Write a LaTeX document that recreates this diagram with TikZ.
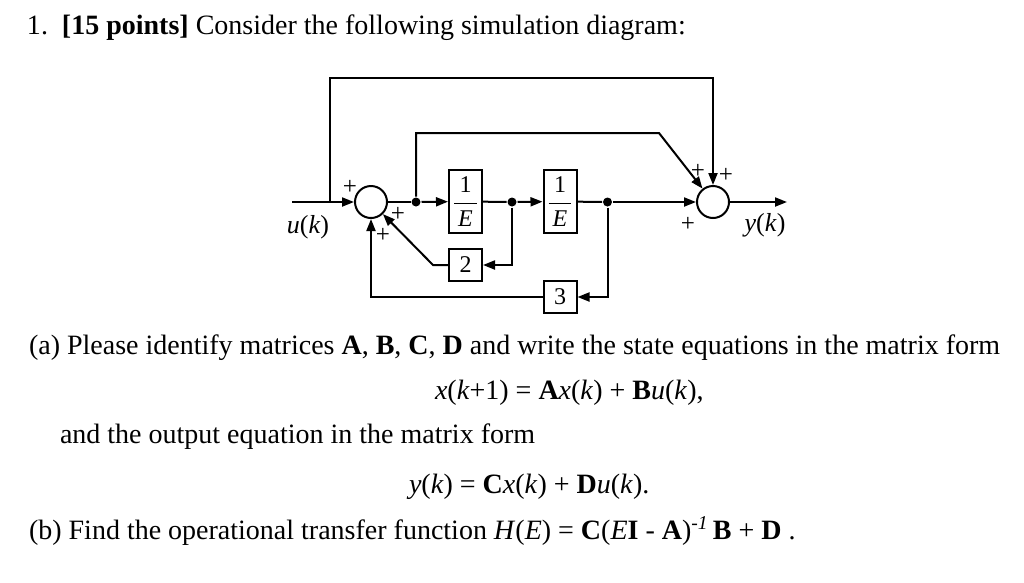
\documentclass[tikz,border=0pt]{standalone}
\usepackage{amsmath}
\usepackage{fontspec}
\setmainfont{Liberation Serif}
\usepackage{tikz}
\usetikzlibrary{shapes,arrows,arrows.meta}
\usetikzlibrary{positioning}

\newcommand{\frc}[2]{$\dfrac{\,\text{#1}\,}{\,\text{\itshape #2}\,}$}

\begin{document}
\begin{tikzpicture}[x=1pt,y=-1pt,line width=2pt,
  >={Triangle[length=12pt,width=9pt]},
  sumnode/.style={circle,draw,minimum size=32pt,inner sep=0pt},
  intbox/.style={draw,minimum width=33pt,minimum height=63pt,inner sep=0pt,
    font=\fontsize{24}{28}\selectfont},
  gainbox/.style={draw,minimum width=33pt,minimum height=32pt,inner sep=0pt,
    font=\fontsize{24}{28}\selectfont},
  dot/.style={circle,fill,inner sep=0pt,minimum size=9pt},
  sgn/.style={inner sep=0pt,font=\fontsize{25}{29}\selectfont},
  sig/.style={inner sep=0pt,font=\fontsize{26}{30}\selectfont},
  txt/.style={anchor=base west,inner sep=0pt,font=\fontsize{28}{33}\selectfont}]

  \useasboundingbox (0,0) rectangle (1024,582);

  % question text
  \node[txt] (title) at (26,34) {1.\ \ \textbf{[15 points]} Consider the following simulation diagram:};
  \node[txt] (parta) at (28,354) {(a) Please identify matrices \textbf{A}, \textbf{B}, \textbf{C}, \textbf{D} and write the state equations in the matrix form};
  \node[txt] (xeq) at (434,399) {\textit{x}(\textit{k}+1) = \textbf{A}\textit{x}(\textit{k}) + \textbf{B}\textit{u}(\textit{k}),};
  \node[txt] (andl) at (59,443) {and the output equation in the matrix form};
  \node[txt] (yeq) at (408,493) {\textit{y}(\textit{k}) = \textbf{C}\textit{x}(\textit{k}) + \textbf{D}\textit{u}(\textit{k}).};
  \node[txt] (partb) at (28,539) {(b) Find the operational transfer function \textit{H}(\textit{E}) = \textbf{C}(\textit{E}\textbf{I} - \textbf{A})\textsuperscript{\textit{-1}}\,\textbf{B} + \textbf{D} .};

  % summers and blocks
  \node[sumnode] (sum1) at (371,202) {};
  \node[sumnode] (sum2) at (713,202) {};
  \node[intbox] (intA) at (465.5,201.5) {\frc{1}{E}};
  \node[intbox] (intB) at (560,201.5) {\frc{1}{E}};
  \node[gainbox] (gain2) at (465.5,265) {2};
  \node[gainbox] (gain3) at (560,297) {3};

  % branch points
  \node[dot] (dot1) at (416,202) {};
  \node[dot] (dot2) at (512,202) {};
  \node[dot] (dot3) at (607.5,202) {};
  \coordinate (in) at (292,202);
  \coordinate (tap0) at (330,202);
  \coordinate (out) at (787,202);
  \coordinate (tl) at (330,78);
  \coordinate (ml) at (416,133);
  \coordinate (mr) at (659,133);
  \coordinate (k2) at (433,265);

  % forward path
  \draw[->] (in) -- (sum1);
  \draw (sum1) -- (dot1);
  \draw[->] (dot1) -- (intA);
  \draw (intA) -- (dot2);
  \draw[->] (dot2) -- (intB);
  \draw (intB) -- (dot3);
  \draw[->] (dot3) -- (sum2);
  \draw[->] (sum2) -- (out);

  % feedforward loops
  \draw[->] (tap0) -- (tl) -| (sum2);
  \draw[->] (dot1) -- (ml) -- (mr) -- (sum2);

  % feedback loops
  \draw[->] (dot2) |- (gain2);
  \draw[->] (gain2) -- (k2) -- (sum1);
  \draw[->] (dot3) |- (gain3);
  \draw[->] (gain3) -| (sum1);

  % signs
  \node[sgn] at (350,187) {+};
  \node[sgn] at (398,214) {+};
  \node[sgn] at (383,235) {+};
  \node[sgn] at (698,171) {+};
  \node[sgn] at (726,175) {+};
  \node[sgn] at (688,224) {+};

  % signals
  \node[sig] (uk) at (308,227) {\textit{u}(\textit{k})};
  \node[sig] (yk) at (765,225) {\textit{y}(\textit{k})};

\end{tikzpicture}
\end{document}
